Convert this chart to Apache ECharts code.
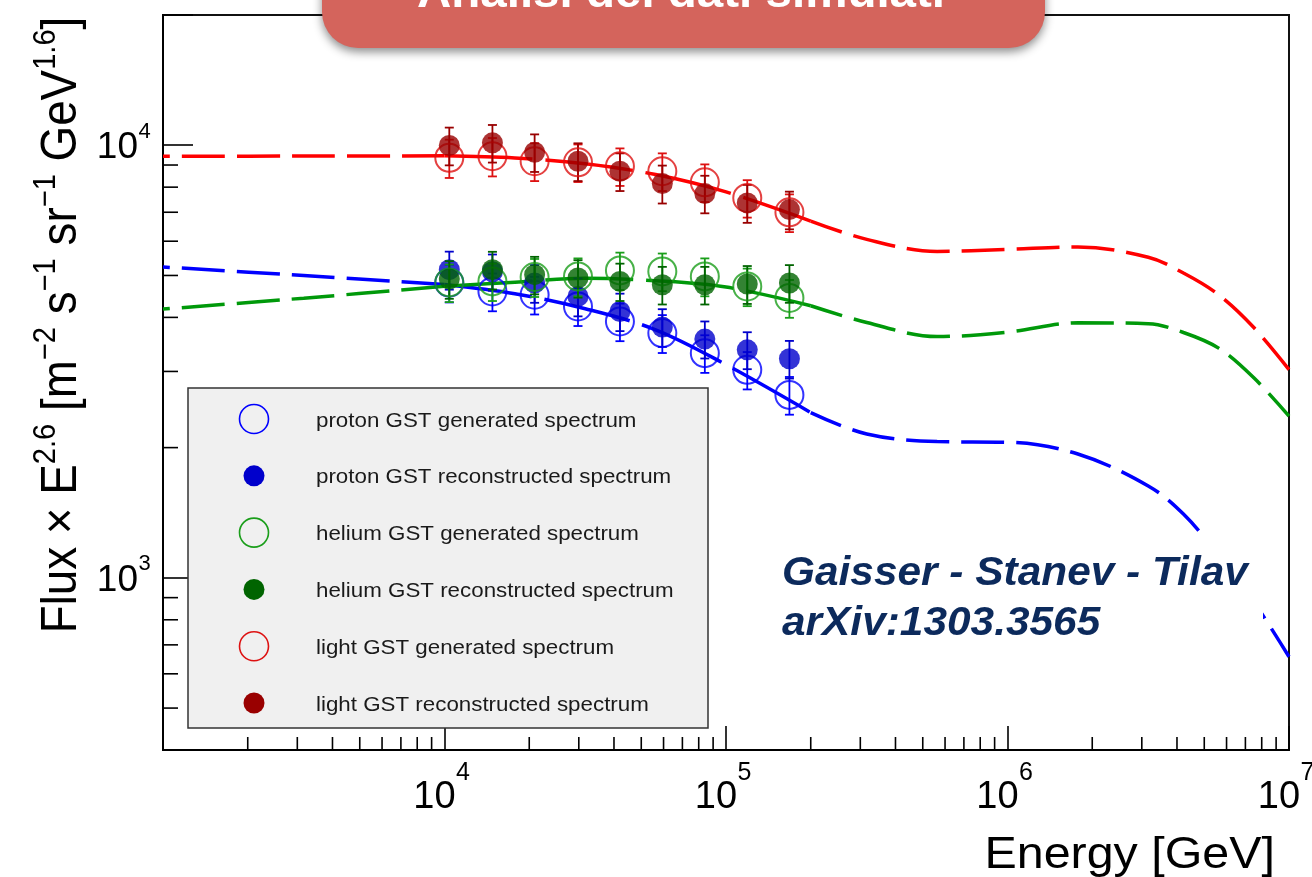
<!DOCTYPE html>
<html><head><meta charset="utf-8">
<script src="https://cdn.jsdelivr.net/npm/echarts@6/dist/echarts.min.js"></script>
<style>html,body{margin:0;padding:0;background:#fff}#c{width:1312px;height:877px}</style>
</head><body><div id="c"></div>
<script>
// ---------------- data ----------------
const energies   = [10400, 14800, 20900, 29800, 42000, 59400, 84100, 119000, 168000];
const protonGen  = [4811, 4592, 4512, 4240, 3914, 3679, 3307, 3026, 2648];
const protonRec  = [5156, 5100, 4803, 4472, 4128, 3798, 3564, 3366, 3209];
const heliumGen  = [4819, 4844, 4959, 4975, 5136, 5109, 4975, 4716, 4436];
const heliumRec  = [4906, 5156, 5021, 4933, 4844, 4759, 4759, 4777, 4803];
const lightGen   = [9351, 9430, 9183, 9131, 8942, 8706, 8210, 7553, 6998];
const lightRec   = [9984, 10128, 9634, 9183, 8706, 8153, 7730, 7356, 7101];
const protonGenErr = [480, 460, 450, 420, 390, 370, 330, 300, 265];
const protonRecErr = [520, 490, 480, 450, 410, 380, 350, 330, 320];
const heliumGenErr = [480, 480, 500, 500, 510, 510, 500, 470, 445];
const heliumRecErr = [490, 515, 500, 490, 480, 475, 475, 480, 480];
const lightGenErr  = [950, 960, 920, 910, 890, 870, 820, 750, 700];
const lightRecErr  = [1000, 1010, 960, 920, 870, 820, 770, 740, 710];

// GST model curves
const modelE      = [1000, 3162, 10000, 17783, 31623, 56234, 100000, 200000, 316228, 562341, 1000000, 1778279, 3162278, 4216965, 5623413, 7498942, 10000000];
const modelProton = [5231, 4998, 4764, 4536, 4188, 3744, 3110, 2410, 2150, 2065, 2058, 1933, 1631, 1404, 1128, 880, 657];
const modelHelium = [4181, 4431, 4721, 4823, 4926, 4862, 4700, 4256, 3893, 3612, 3698, 3886, 3867, 3691, 3396, 2900, 2364];
const modelLight  = [9430, 9440, 9450, 9341, 9057, 8555, 7800, 6680, 6058, 5683, 5744, 5817, 5510, 5066, 4512, 3790, 3030];
const fitRange = [10000, 200000];   // energy range where the model is drawn solid

// axes: ranges, labelled decades and minor tick values
const xRange = [1000, 10000000];
const yRange = [400, 20000];
const xLabelValues = [10000, 100000, 1000000, 10000000];
const yLabelValues = [1000, 10000];
const xMinorTicks = [];
[1e3, 1e4, 1e5, 1e6].forEach(d => { for (let m = 2; m <= 9; m++) xMinorTicks.push(m * d); });
const yMinorTicks = [500, 600, 700, 800, 900, 2000, 3000, 4000, 5000, 6000, 7000, 8000, 9000];

const legendLabels = [
  'proton GST generated spectrum', 'proton GST reconstructed spectrum',
  'helium GST generated spectrum', 'helium GST reconstructed spectrum',
  'light GST generated spectrum', 'light GST reconstructed spectrum'
];

// ---------------- styling ----------------
const C = {
  pGen: '#0000ff', pRec: '#0000cc',
  hGen: '#1a9e1a', hRec: '#006400',
  lGen: '#dd1111', lRec: '#990000',
  pLine: '#0000ff', hLine: '#00990a', lLine: '#ff0000'
};
const FONT = '"Liberation Sans", Arial, Helvetica, sans-serif';

const chart = echarts.init(document.getElementById('c'), null, {renderer: 'canvas'});

function pts(xs, ys) { return xs.map((x, i) => [x, ys[i]]); }
function part(ys, lo, hi) { return modelE.map((e, i) => [e, ys[i]]).filter(p => p[0] >= lo && p[0] <= hi); }

function modelSeries(name, ys, color) {
  const base = {type: 'line', showSymbol: false, symbol: 'none', smooth: 0.35, silent: true, z: 2, clip: true};
  return [
    Object.assign({}, base, {name: name + ' L', data: part(ys, xRange[0], fitRange[0]),
      lineStyle: {color, width: 3.5, type: [43, 12], dashOffset: 36}}),
    Object.assign({}, base, {name: name + ' M', data: part(ys, fitRange[0], fitRange[1]),
      lineStyle: {color, width: 3.5, type: [88, 13]}}),
    Object.assign({}, base, {name: name + ' R', data: part(ys, fitRange[1], xRange[1]),
      lineStyle: {color, width: 3.5, type: [43, 12], dashOffset: 10}})
  ];
}

function errSeries(vals, errs, color, z) {
  return {
    type: 'custom', silent: true, z,
    data: energies.map((e, i) => [e, vals[i] - errs[i], vals[i] + errs[i]]),
    encode: {x: 0, y: [1, 2]},
    renderItem(params, api) {
      const x = api.value(0);
      const lo = api.coord([x, api.value(1)]);
      const hi = api.coord([x, api.value(2)]);
      const w = 4.5, st = {stroke: color, lineWidth: 1.8};
      return {type: 'group', children: [
        {type: 'line', shape: {x1: lo[0], y1: lo[1], x2: hi[0], y2: hi[1]}, style: st},
        {type: 'line', shape: {x1: lo[0] - w, y1: lo[1], x2: lo[0] + w, y2: lo[1]}, style: st},
        {type: 'line', shape: {x1: hi[0] - w, y1: hi[1], x2: hi[0] + w, y2: hi[1]}, style: st}
      ]};
    }
  };
}
function openSeries(name, vals, color, z) {
  return {type: 'scatter', name, data: pts(energies, vals), symbol: 'circle', symbolSize: 28, z,
    itemStyle: {color: 'rgba(0,0,0,0)', borderColor: color, borderWidth: 2}, silent: true};
}
function fullSeries(name, vals, color, z) {
  return {type: 'scatter', name, data: pts(energies, vals), symbol: 'circle', symbolSize: 21, z,
    itemStyle: {color}, silent: true};
}
function tickSeries(vals, axis) {
  return {
    type: 'custom', silent: true, z: 1,
    data: vals.map(v => axis === 'x' ? [v, yRange[0]] : [xRange[0], v]),
    renderItem(params, api) {
      const p = api.coord([api.value(0), api.value(1)]);
      const shape = axis === 'x' ? {x1: p[0], y1: p[1], x2: p[0], y2: p[1] - 13}
                                 : {x1: p[0], y1: p[1], x2: p[0] + 15, y2: p[1]};
      return {type: 'line', shape, style: {stroke: '#000', lineWidth: 1.6}};
    }
  };
}
// decade labels "10^n" placed through the axis scales
function labelSeries(vals, axis) {
  return {
    type: 'custom', silent: true, z: 1,
    data: vals.map(v => axis === 'x' ? [v, yRange[0]] : [xRange[0], v]),
    renderItem(params, api) {
      const v = axis === 'x' ? api.value(0) : api.value(1);
      const n = String(Math.round(Math.log10(v)));
      const p = api.coord([api.value(0), api.value(1)]);
      if (axis === 'x') {
        return {type: 'group', children: [
          {type: 'text', x: p[0] - 10, y: p[1] + 48, style: {text: '10', font: '38px ' + FONT, fill: '#000', align: 'center', verticalAlign: 'middle'}},
          {type: 'text', x: p[0] + 11.5, y: p[1] + 23.5, style: {text: n, font: '25px ' + FONT, fill: '#000', align: 'left', verticalAlign: 'middle'}}
        ]};
      }
      return {type: 'group', children: [
        {type: 'text', x: p[0] - 25, y: p[1] + 3, style: {text: '10', font: '37px ' + FONT, fill: '#000', align: 'right', verticalAlign: 'middle'}},
        {type: 'text', x: p[0] - 24.5, y: p[1] - 13.5, style: {text: n, font: '22px ' + FONT, fill: '#000', align: 'left', verticalAlign: 'middle'}}
      ]};
    }
  };
}

const series = [].concat(
  tickSeries(xMinorTicks, 'x'), tickSeries(yMinorTicks, 'y'),
  labelSeries(xLabelValues, 'x'), labelSeries(yLabelValues, 'y'),
  modelSeries('proton', modelProton, C.pLine),
  modelSeries('helium', modelHelium, C.hLine),
  modelSeries('light', modelLight, C.lLine),
  [
    errSeries(protonGen, protonGenErr, C.pGen, 3), openSeries(legendLabels[0], protonGen, C.pGen, 3),
    errSeries(protonRec, protonRecErr, C.pRec, 3), fullSeries(legendLabels[1], protonRec, C.pRec, 3),
    errSeries(heliumGen, heliumGenErr, C.hGen, 4), openSeries(legendLabels[2], heliumGen, C.hGen, 4),
    errSeries(heliumRec, heliumRecErr, C.hRec, 4), fullSeries(legendLabels[3], heliumRec, C.hRec, 4),
    errSeries(lightGen, lightGenErr, C.lGen, 5), openSeries(legendLabels[4], lightGen, C.lGen, 5),
    errSeries(lightRec, lightRecErr, C.lRec, 5), fullSeries(legendLabels[5], lightRec, C.lRec, 5)
  ]
);

// legend drawn as a ROOT-style TLegend box
const legendX = 188, legendY = 388, legendW = 520, legendH = 340, rowH = 56.8, row0 = 419;
const legendKinds = [['o', C.pGen], ['f', C.pRec], ['o', C.hGen], ['f', C.hRec], ['o', C.lGen], ['f', C.lRec]];
const legendEls = [{type: 'rect', shape: {x: legendX, y: legendY, width: legendW, height: legendH},
  style: {fill: '#f0f0f0', stroke: '#333', lineWidth: 1.5}, z: 100}];
legendKinds.forEach((k, i) => {
  const cy = row0 + i * rowH;
  legendEls.push(k[0] === 'o'
    ? {type: 'circle', shape: {cx: 254, cy, r: 14.5}, style: {fill: 'none', stroke: k[1], lineWidth: 1.6}, z: 101}
    : {type: 'circle', shape: {cx: 254, cy, r: 10.5}, style: {fill: k[1]}, z: 101});
  legendEls.push({type: 'text', x: 316, y: cy + 2, scaleX: 1.09, z: 101,
    style: {text: legendLabels[i], font: '20.5px ' + FONT, fill: '#1a1a1a', align: 'left', verticalAlign: 'middle'}});
});

const option = {
  animation: false,
  backgroundColor: '#ffffff',
  grid: {left: 163, right: 23, top: 15, bottom: 127, containLabel: false, outerBoundsMode: 'none',
    show: true, borderColor: '#111', borderWidth: 2, backgroundColor: 'transparent'},
  xAxis: {
    type: 'log', logBase: 10, min: xRange[0], max: xRange[1],
    axisLine: {show: true, lineStyle: {color: '#000', width: 2}},
    axisTick: {show: true, inside: true, length: 24, lineStyle: {color: '#000', width: 1.6}},
    splitLine: {show: false},
    axisLabel: {show: false}
  },
  yAxis: {
    type: 'log', logBase: 10, min: yRange[0], max: yRange[1],
    axisLine: {show: true, lineStyle: {color: '#000', width: 2}},
    axisTick: {show: true, inside: true, length: 30, lineStyle: {color: '#000', width: 1.6}},
    splitLine: {show: false},
    axisLabel: {show: false}
  },
  series,
  graphic: [
    // title banner (cut by the top edge)
    {type: 'rect', z: 200, shape: {x: 322, y: -60, width: 723, height: 108, r: 36},
      style: {fill: '#d4645c', shadowBlur: 10, shadowOffsetY: 4, shadowColor: 'rgba(0,0,0,0.45)'}},
    {type: 'text', z: 201, x: 681, y: -5, scaleX: 1.08,
      style: {text: 'Analisi dei dati simulati', font: 'bold 44px ' + FONT, fill: '#ffffff', align: 'center', verticalAlign: 'middle'}},
    // y axis title
    {type: 'text', z: 50, x: 59, y: 325, rotation: Math.PI / 2, scaleX: 1.04, scaleY: 1.12,
      style: {
        text: '{b|Flux × E}{s|2.6}{b| [m}{s|−2}{b| s}{s|−1}{b| sr}{s|−1}{b| GeV}{s|1.6}{b|]}',
        align: 'center', verticalAlign: 'middle', fill: '#000',
        rich: {
          b: {fontSize: 44, lineHeight: 50, fontFamily: FONT, fill: '#000', verticalAlign: 'bottom'},
          s: {fontSize: 28, lineHeight: 28, fontFamily: FONT, fill: '#000', verticalAlign: 'top', padding: [0, 0, 35, 0]}
        }
      }},
    // x axis title
    {type: 'text', z: 50, x: 1275, y: 856, scaleX: 1.1,
      style: {text: 'Energy [GeV]', font: '44px ' + FONT, fill: '#000', align: 'right', verticalAlign: 'middle'}},
    // model reference pave
    {type: 'rect', z: 90, shape: {x: 770, y: 535, width: 493, height: 125}, style: {fill: '#ffffff'}},
    {type: 'text', z: 91, x: 782, y: 574, scaleX: 1.06,
      style: {text: 'Gaisser - Stanev - Tilav', font: 'italic bold 40px ' + FONT, fill: '#0c2a5c', align: 'left', verticalAlign: 'middle'}},
    {type: 'text', z: 91, x: 782, y: 624, scaleX: 1.06,
      style: {text: 'arXiv:1303.3565', font: 'italic bold 40px ' + FONT, fill: '#0c2a5c', align: 'left', verticalAlign: 'middle'}}
  ].concat(legendEls)
};
chart.setOption(option);
</script>
</body></html>
